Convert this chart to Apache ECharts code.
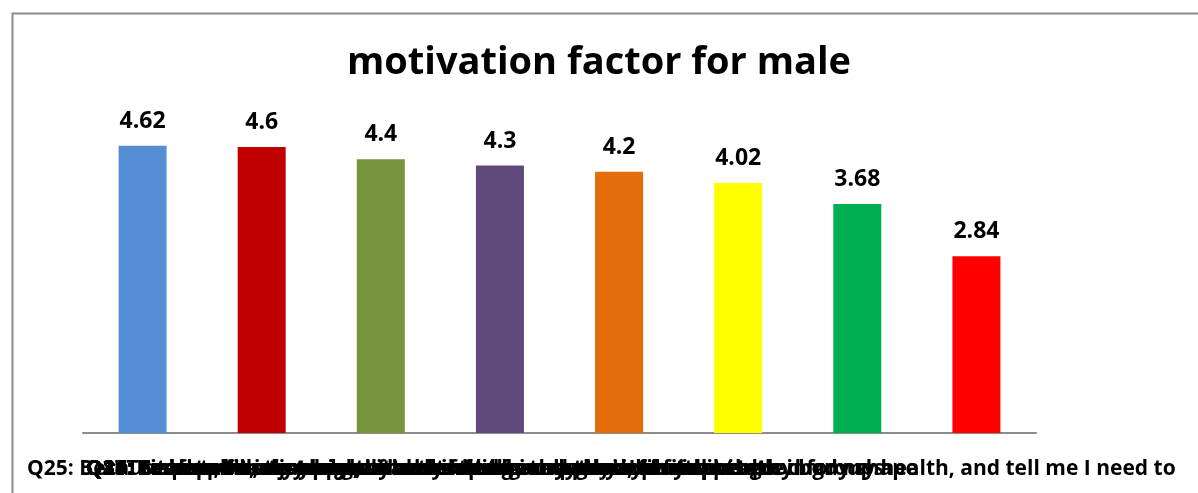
<!DOCTYPE html>
<html>
<head>
<meta charset="utf-8">
<script src="https://cdn.jsdelivr.net/npm/echarts@6/dist/echarts.min.js"></script>
<style>
  html, body { margin: 0; padding: 0; background: #fff; }
  #chart { width: 1198px; height: 493px; }
</style>
</head>
<body>
<div id="chart"></div>
<script>
// question labels, in bar order
const categories = [
  "Q31: To keep fit, stay healthy and improve my physical fitness",
  "Q36: For fun, to enjoy myself and to feel good when I play sports",
  "Q8: To take skills to a higher level and to compete in tournaments",
  "Q18: Teachers and coaches and the things they say about sport",
  "Q17: Time to be in a team with my friends and to work with others in groups",
  "Q23: To be tall and strong, to travel and to meet lots of new people",
  "Q21: To improve my appearance and to have a good, fit and healthy body shape",
  "Q25: Because parents, teachers, coaches and friends always said it is good for my health, and tell me I need to"
];
const values = [4.62, 4.6, 4.4, 4.3, 4.2, 4.02, 3.68, 2.84];
const barColors = ["#558ED5", "#C00000", "#77933C", "#604A7B", "#E46C0A", "#FFFF00", "#00B050", "#FF0000"];

const chart = echarts.init(document.getElementById("chart"), null, { renderer: "canvas" });

// labels overlap in the original: Q25 spans the whole width, the others start near the axis
const labelTexts = categories.map((c, i) => ({
  type: "text",
  left: i === categories.length - 1 ? 27 : 86,
  top: 459,
  z: 10,
  style: {
    text: c,
    font: "bold 21px 'Open Sans'",
    fill: "#000"
  }
}));

const option = {
  backgroundColor: "#fff",
  animation: false,
  title: {
    text: "motivation factor for male",
    left: "center",
    top: 39,
    textStyle: { fontFamily: "Open Sans", fontWeight: "bold", fontSize: 38, color: "#000" }
  },
  grid: { left: 83, right: 162, top: 122, bottom: 60 },
  xAxis: {
    type: "category",
    data: categories,
    axisLine: { lineStyle: { color: "#8c8c8c", width: 2 } },
    axisTick: { show: false },
    axisLabel: { show: false }
  },
  yAxis: {
    type: "value",
    min: 0,
    max: 5,
    show: false,
    splitLine: { show: false }
  },
  series: [{
    type: "bar",
    barWidth: 48,
    data: values.map((v, i) => ({ value: v, itemStyle: { color: barColors[i] } })),
    label: {
      show: true,
      position: "top",
      distance: 13,
      fontFamily: "Open Sans",
      fontWeight: "bold",
      fontSize: 23,
      color: "#000"
    }
  }],
  graphic: [
    {
      type: "rect",
      left: 10,
      top: 11,
      shape: { width: 1200, height: 500 },
      style: { fill: "none", stroke: "#8c8c8c", lineWidth: 2 },
      silent: true
    },
    ...labelTexts
  ]
};

chart.setOption(option);
</script>
</body>
</html>
